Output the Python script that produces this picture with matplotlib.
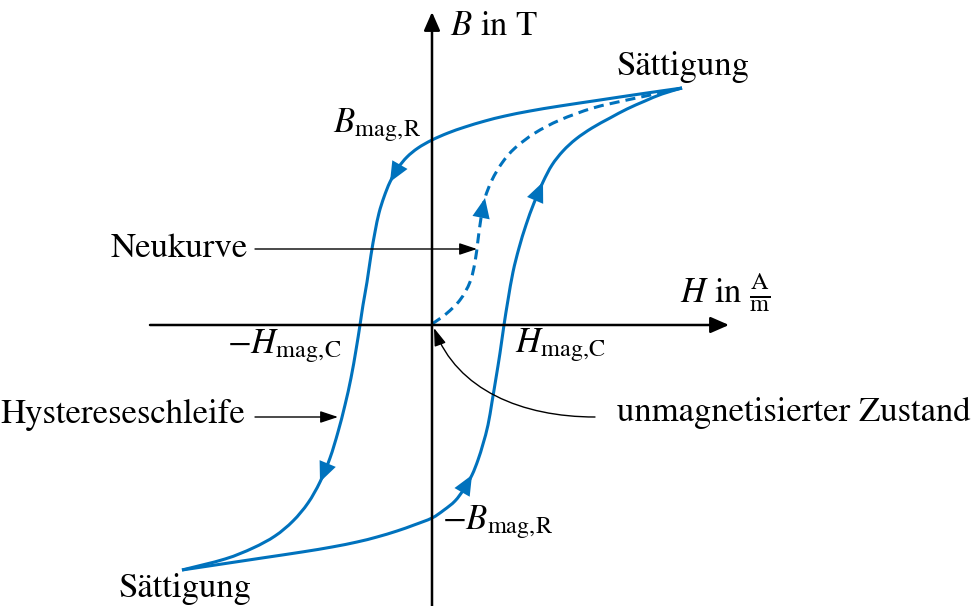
import numpy as np
import matplotlib.pyplot as plt
from matplotlib.path import Path
from matplotlib.patches import FancyArrowPatch, PathPatch

plt.rcParams['font.family'] = 'STIXGeneral'
plt.rcParams['mathtext.fontset'] = 'stix'

# Hystereseschleife, H und B in willkuerlichen Einheiten (Ursprung = Achsenkreuz)
# absteigender Ast: Saettigung oben rechts -> Saettigung unten links
down_H = [250, 208, 168, 128, 98, 73, 53, 33, 16, 0, -14, -25, -34, -42, -48, -53, -57, -61,
          -65, -69, -72, -76, -81, -87, -94, -102, -112, -124, -139, -157, -179, -207, -250]
down_B = [237, 231, 225, 219, 214, 209, 204, 198, 192, 185, 177, 168, 157, 143, 128, 112, 93, 70,
          43, 20, 0, -25, -53, -80, -107, -133, -157, -178, -196, -211, -223, -234, -245]

# aufsteigender Ast: Saettigung unten links -> Saettigung oben rechts
up_H = [-250, -210, -170, -130, -100, -75, -55, -35, -18, 0, 12, 23, 32, 40, 46, 51, 56, 60,
        64, 68, 72, 76, 81, 87, 94, 102, 111, 120, 131, 144, 160, 178, 195, 213, 230, 250]
up_B = [-245, -239, -233, -227, -222, -217, -212, -206, -200, -193, -185, -176, -164, -150, -135,
        -119, -100, -77, -53, -28, 0, 25, 53, 77, 100, 122, 143, 160, 174, 186, 197, 207, 216,
        224, 231, 237]

# Neukurve vom unmagnetisierten Zustand bis zur Saettigung
new_H = [0, 14, 28, 38, 43, 46, 49, 53, 60, 70, 83, 103, 128, 161, 195, 228, 250]
new_B = [1, 11, 25, 43, 63, 85, 107, 127, 145, 162, 177, 192, 205, 217, 225, 232, 237]

blue = '#0072BD'

fig = plt.figure(figsize=(9.79, 6.06), dpi=100)
ax = fig.add_axes([0, 0, 1, 1])
ax.set_xlim(-432, 547)
ax.set_ylim(-281, 325)
ax.axis('off')

# Achsen
axis_style = dict(arrowstyle='-|>,head_length=0.8,head_width=0.35', color='black',
                  lw=1.8, shrinkA=0, shrinkB=0, mutation_scale=14)
ax.annotate('', xy=(297, 0), xytext=(-282, 0), arrowprops=axis_style)
ax.annotate('', xy=(0, 313), xytext=(0, -281), arrowprops=axis_style)


def smooth_path(hs, bs):
    p = np.column_stack([hs, bs]).astype(float)
    verts = [p[0]]
    codes = [Path.MOVETO]
    for i in range(len(p) - 1):
        p0 = p[i - 1] if i > 0 else p[i]
        p3 = p[i + 2] if i + 2 < len(p) else p[i + 1]
        verts += [p[i] + (p[i + 1] - p0) / 6, p[i + 1] - (p3 - p[i]) / 6, p[i + 1]]
        codes += [Path.CURVE4] * 3
    return Path(verts, codes)


for hs, bs, ls in [(down_H, down_B, '-'), (up_H, up_B, '-'), (new_H, new_B, (0, (3.3, 2)))]:
    ax.add_patch(PathPatch(smooth_path(hs, bs), fill=False, edgecolor=blue, lw=2.2,
                           linestyle=ls, capstyle='butt'))


def arrow_on(hs, bs, i):
    ax.annotate('', xy=(hs[i], bs[i]), xytext=(hs[i - 1], bs[i - 1]),
                arrowprops=dict(arrowstyle='-|>,head_length=0.8,head_width=0.35',
                                color=blue, lw=0, shrinkA=0, shrinkB=0, mutation_scale=18))


arrow_on(down_H, down_B, 13)
arrow_on(down_H, down_B, 26)
arrow_on(up_H, up_B, 13)
arrow_on(up_H, up_B, 26)
arrow_on(new_H, new_B, 7)

# Beschriftungen
fs = 25
ax.text(184, 250, 'Sättigung', fontsize=fs, ha='left', va='baseline')
ax.text(-314, -272, 'Sättigung', fontsize=fs, ha='left', va='baseline')
ax.text(-99, 193, r'$B_{\mathrm{mag},\!\mathrm{R}}$', fontsize=fs, ha='left', va='baseline')
ax.text(-205, -28, r'$-H_{\mathrm{mag},\!\mathrm{C}}$', fontsize=fs, ha='left', va='baseline')
ax.text(83, -27, r'$H_{\mathrm{mag},\!\mathrm{C}}$', fontsize=fs, ha='left', va='baseline')
ax.text(10, -204, r'$-B_{\mathrm{mag},\!\mathrm{R}}$', fontsize=fs, ha='left', va='baseline')
ax.text(248, 22, r'$H$ in $\frac{\mathrm{A}}{\mathrm{m}}$', fontsize=fs, ha='left', va='baseline')
ax.text(18, 290, r'$B$ in T', fontsize=fs, ha='left', va='baseline')
ax.text(-184, 68, 'Neukurve', fontsize=fs, ha='right', va='baseline')
ax.text(-187, -98, 'Hystereseschleife', fontsize=fs, ha='right', va='baseline')
ax.text(185, -96, 'unmagnetisierter Zustand', fontsize=fs, ha='left', va='baseline')

# Hinweispfeile
pointer = dict(arrowstyle='-|>,head_length=0.9,head_width=0.3', color='black',
               lw=1.0, shrinkA=0, shrinkB=0, mutation_scale=12)
ax.annotate('', xy=(45, 76), xytext=(-177, 76), arrowprops=pointer)
ax.annotate('', xy=(-94, -92), xytext=(-177, -92), arrowprops=pointer)
curve = Path([(163, -92), (90, -92), (25, -65), (2, -3)],
             [Path.MOVETO, Path.CURVE4, Path.CURVE4, Path.CURVE4])
ax.add_patch(FancyArrowPatch(path=curve, arrowstyle='-|>,head_length=0.9,head_width=0.3',
                             color='black', lw=1.0, mutation_scale=12))

fig.savefig('out.png', dpi=100)
